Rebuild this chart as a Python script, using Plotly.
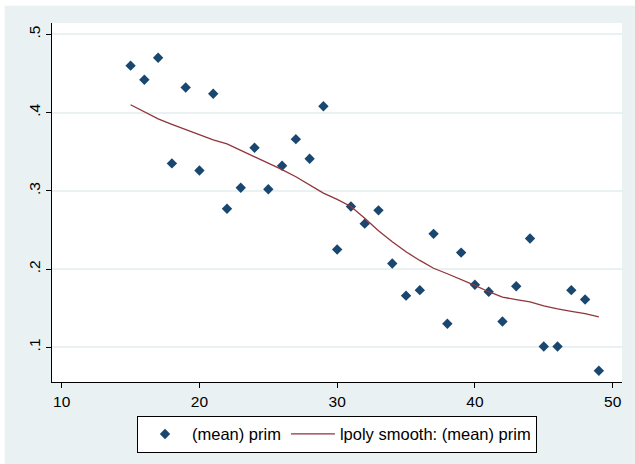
import plotly.graph_objects as go

# Mean share "prim" by x value
x_vals = list(range(15, 50))
prim_mean = [0.460, 0.442, 0.470, 0.335, 0.432, 0.326, 0.424, 0.277, 0.304, 0.355,
             0.302, 0.332, 0.366, 0.341, 0.408, 0.225, 0.280, 0.258, 0.275, 0.207,
             0.166, 0.173, 0.245, 0.130, 0.221, 0.180, 0.171, 0.133, 0.178, 0.239,
             0.101, 0.101, 0.173, 0.161, 0.070]

# Local polynomial smooth evaluated on the same grid
smooth_x = list(range(15, 50))
smooth_y = [0.410, 0.401, 0.392, 0.385, 0.378, 0.371, 0.365, 0.360, 0.352, 0.343,
            0.335, 0.327, 0.318, 0.307, 0.297, 0.289, 0.280, 0.265, 0.249, 0.235,
            0.222, 0.211, 0.201, 0.194, 0.187, 0.179, 0.171, 0.164, 0.161, 0.158,
            0.153, 0.149, 0.146, 0.143, 0.139]

x_ticks = [10, 20, 30, 40, 50]
y_ticks = [0.1, 0.2, 0.3, 0.4, 0.5]
y_tick_text = [".1", ".2", ".3", ".4", ".5"]

NAVY = "#1a476f"
MAROON = "#90353b"
REGION = "#eaf1f3"
FONT = "Liberation Sans, Arial, sans-serif"

fig = go.Figure()
fig.add_trace(go.Scatter(
    x=x_vals, y=prim_mean, mode="markers", name="(mean) prim",
    marker=dict(symbol="diamond", size=8, color=NAVY, line=dict(width=0)),
))
fig.add_trace(go.Scatter(
    x=smooth_x, y=smooth_y, mode="lines", name="lpoly smooth: (mean) prim",
    line=dict(color=MAROON, width=1.3),
))

axis_common = dict(
    showline=True, linecolor="black", linewidth=1.2,
    ticks="outside", ticklen=5, tickwidth=1.2, tickcolor="black",
    zeroline=False, mirror=False,
    tickfont=dict(family=FONT, size=15.5, color="black"),
)

fig.update_xaxes(
    range=[9.295, 50.68], tickvals=x_ticks, showgrid=False, **axis_common,
)
fig.update_yaxes(
    range=[0.0556, 0.5145], tickvals=y_ticks, ticktext=y_tick_text,
    tickangle=-90, showgrid=True, gridcolor=REGION, gridwidth=1.5,
    **axis_common,
)

fig.update_layout(
    width=635, height=464,
    margin=dict(l=52, r=13, t=23, b=82, autoexpand=False),
    paper_bgcolor=REGION, plot_bgcolor="white",
    font=dict(family=FONT, size=15.5, color="black"),
    showlegend=True,
    legend=dict(
        orientation="h", x=0.5, xanchor="center", y=-0.094, yanchor="top",
        bgcolor="white", bordercolor="black", borderwidth=1,
        font=dict(family=FONT, size=16.5, color="black"),
        itemwidth=44, tracegroupgap=0,
    ),
    shapes=[
        # thin white border round the graph region
        dict(type="rect", xref="paper", yref="paper", x0=-0.2, x1=-0.083,
             y0=-0.5, y1=1.2, fillcolor="white", line=dict(width=0), layer="above"),
        dict(type="rect", xref="paper", yref="paper", x0=-0.2, x1=1.2,
             y0=1.0483, y1=1.2, fillcolor="white", line=dict(width=0), layer="above"),
    ],
)

fig.write_html("out.html")
